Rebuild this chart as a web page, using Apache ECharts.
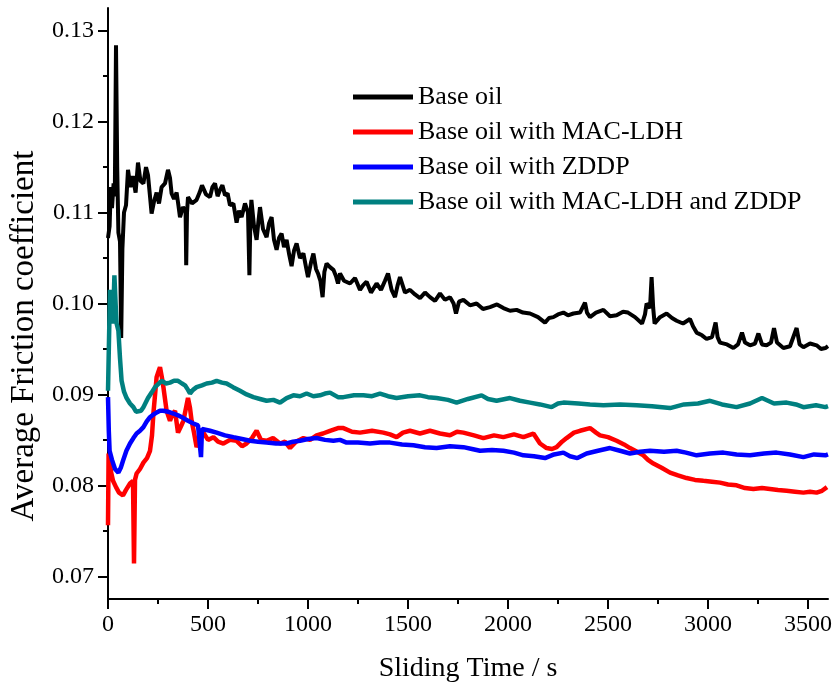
<!DOCTYPE html>
<html>
<head>
<meta charset="utf-8">
<script src="https://cdn.jsdelivr.net/npm/echarts@6/dist/echarts.min.js"></script>
<style>html,body{margin:0;padding:0;background:#fff}#c{width:836px;height:683px}</style>
</head>
<body>
<div id="c"></div>
<script>
const seriesNames = ['Base oil','Base oil with MAC-LDH','Base oil with ZDDP','Base oil with MAC-LDH and ZDDP'];
const seriesColors = ['#000000','#ff0000','#0000ff','#008080'];
const xMajorTicks = [0,500,1000,1500,2000,2500,3000,3500];
const xMinorTicks = [250,750,1250,1750,2250,2750,3250];
const yMajorTicks = [0.07,0.08,0.09,0.10,0.11,0.12,0.13];
const yMinorTicks = [0.075,0.085,0.095,0.105,0.115,0.125];

const baseOil = [[0,0.1072],[8,0.1085],[14,0.1128],[20,0.1105],[28,0.1132],[34,0.1118],[40,0.1284],[46,0.1150],[52,0.1078],[60,0.1068],[66,0.0962],[72,0.1060],[80,0.1100],[90,0.1108],[100,0.1147],[112,0.1128],[124,0.1140],[138,0.1122],[150,0.1155],[162,0.1135],[177,0.1132],[190,0.1150],[200,0.1141],[210,0.1118],[218,0.1099],[230,0.1112],[243,0.1122],[255,0.1110],[268,0.1128],[285,0.1132],[300,0.1147],[310,0.1138],[318,0.1121],[330,0.1115],[343,0.1122],[352,0.1108],[360,0.1095],[375,0.1106],[388,0.1102],[391,0.1042],[395,0.1100],[400,0.1117],[420,0.1110],[443,0.1114],[458,0.1122],[470,0.1130],[490,0.1120],[510,0.1117],[522,0.1128],[535,0.1132],[548,0.1118],[560,0.1125],[572,0.1130],[585,0.1119],[598,0.1121],[610,0.1108],[627,0.1110],[643,0.1089],[655,0.1102],[668,0.1095],[685,0.1110],[700,0.1100],[707,0.1031],[712,0.1095],[717,0.1114],[730,0.1085],[743,0.1070],[752,0.1090],[760,0.1106],[775,0.1082],[793,0.1073],[805,0.1088],[818,0.1095],[830,0.1070],[843,0.1059],[855,0.1072],[868,0.1077],[880,0.1062],[893,0.1070],[905,0.1055],[918,0.1041],[930,0.1058],[943,0.1066],[960,0.1050],[977,0.1055],[990,0.1040],[1000,0.1029],[1015,0.1045],[1027,0.1055],[1040,0.1038],[1050,0.1033],[1062,0.1025],[1073,0.1007],[1082,0.1035],[1093,0.1044],[1110,0.1040],[1127,0.1037],[1140,0.1030],[1150,0.1022],[1160,0.1033],[1180,0.1025],[1210,0.1022],[1235,0.1028],[1260,0.1015],[1275,0.1020],[1293,0.1024],[1315,0.1012],[1343,0.1022],[1365,0.1015],[1385,0.1025],[1400,0.1033],[1418,0.1015],[1435,0.1007],[1448,0.1020],[1460,0.1029],[1485,0.1012],[1510,0.1015],[1535,0.1010],[1560,0.1006],[1585,0.1012],[1610,0.1007],[1635,0.1003],[1660,0.1011],[1685,0.1004],[1710,0.1007],[1728,0.1000],[1740,0.0989],[1755,0.1002],[1777,0.1004],[1810,0.0998],[1843,0.1000],[1875,0.0994],[1910,0.0996],[1945,0.0999],[1977,0.0995],[2010,0.0992],[2043,0.0993],[2075,0.0990],[2110,0.0989],[2150,0.0985],[2185,0.0979],[2205,0.0984],[2227,0.0985],[2250,0.0988],[2277,0.0990],[2300,0.0987],[2327,0.0989],[2360,0.0990],[2385,0.1001],[2395,0.0990],[2410,0.0985],[2440,0.0990],[2477,0.0993],[2510,0.0986],[2543,0.0987],[2575,0.0991],[2600,0.0990],[2635,0.0985],[2670,0.0978],[2685,0.0988],[2693,0.1000],[2710,0.0995],[2718,0.1029],[2726,0.0995],[2733,0.0978],[2760,0.0985],[2793,0.0989],[2820,0.0984],[2843,0.0981],[2875,0.0978],[2910,0.0983],[2925,0.0975],[2943,0.0968],[2970,0.0965],[2993,0.0961],[3020,0.0963],[3038,0.0979],[3048,0.0963],[3060,0.0957],[3095,0.0955],[3127,0.0951],[3150,0.0955],[3170,0.0968],[3185,0.0957],[3210,0.0954],[3235,0.0956],[3252,0.0967],[3270,0.0955],[3293,0.0954],[3315,0.0957],[3330,0.0973],[3345,0.0957],[3377,0.0951],[3410,0.0953],[3443,0.0973],[3458,0.0955],[3477,0.0952],[3510,0.0956],[3543,0.0954],[3565,0.0950],[3587,0.0951],[3600,0.0953]];

const macLdh = [[0,0.0756],[3,0.0835],[8,0.0828],[15,0.0815],[25,0.0805],[40,0.0798],[55,0.0792],[75,0.0789],[90,0.0795],[110,0.0802],[125,0.0805],[130,0.0714],[135,0.0806],[143,0.0813],[160,0.0818],[177,0.0825],[195,0.0830],[210,0.0838],[220,0.0855],[227,0.0879],[243,0.0919],[252,0.0925],[260,0.0930],[270,0.0918],[277,0.0908],[293,0.0882],[310,0.0871],[322,0.0878],[335,0.0882],[350,0.0858],[365,0.0865],[377,0.0871],[390,0.0885],[400,0.0896],[410,0.0885],[418,0.0871],[430,0.0858],[443,0.0842],[460,0.0852],[477,0.0858],[500,0.0850],[527,0.0853],[550,0.0848],[577,0.0846],[610,0.0850],[643,0.0849],[670,0.0843],[693,0.0846],[720,0.0852],[743,0.0860],[765,0.0850],[793,0.0849],[825,0.0852],[860,0.0846],[885,0.0848],[910,0.0841],[940,0.0848],[977,0.0852],[1010,0.0850],[1043,0.0855],[1075,0.0857],[1110,0.0860],[1150,0.0863],[1177,0.0863],[1220,0.0859],[1260,0.0858],[1320,0.0860],[1377,0.0858],[1410,0.0856],[1443,0.0853],[1475,0.0858],[1510,0.0860],[1560,0.0857],[1610,0.0860],[1660,0.0857],[1710,0.0855],[1745,0.0859],[1777,0.0858],[1830,0.0855],[1877,0.0852],[1930,0.0855],[1977,0.0853],[2030,0.0856],[2077,0.0853],[2127,0.0857],[2160,0.0846],[2193,0.0841],[2220,0.0840],[2243,0.0842],[2270,0.0848],[2293,0.0852],[2330,0.0858],[2360,0.0860],[2410,0.0863],[2440,0.0858],[2460,0.0855],[2500,0.0853],[2543,0.0849],[2580,0.0845],[2610,0.0841],[2645,0.0837],[2677,0.0833],[2700,0.0828],[2727,0.0824],[2770,0.0819],[2810,0.0814],[2850,0.0811],[2893,0.0808],[2935,0.0806],[2977,0.0805],[3020,0.0804],[3060,0.0803],[3100,0.0801],[3143,0.0800],[3185,0.0797],[3227,0.0796],[3270,0.0797],[3310,0.0796],[3350,0.0795],[3393,0.0794],[3435,0.0793],[3477,0.0792],[3510,0.0793],[3543,0.0792],[3570,0.0794],[3595,0.0798]];

const zddp = [[0,0.0897],[4,0.0860],[8,0.0838],[20,0.0828],[35,0.0818],[52,0.0814],[65,0.0820],[75,0.0827],[92,0.0838],[110,0.0846],[127,0.0852],[143,0.0857],[160,0.0860],[177,0.0864],[193,0.0870],[210,0.0875],[227,0.0878],[243,0.0880],[260,0.0882],[277,0.0882],[300,0.0881],[327,0.0879],[350,0.0877],[377,0.0874],[400,0.0871],[427,0.0868],[450,0.0866],[460,0.0864],[465,0.0831],[470,0.0862],[477,0.0863],[510,0.0860],[543,0.0858],[585,0.0855],[627,0.0853],[670,0.0851],[710,0.0849],[750,0.0848],[793,0.0847],[840,0.0846],[893,0.0846],[925,0.0848],[960,0.0849],[1000,0.0851],[1043,0.0852],[1085,0.0850],[1127,0.0849],[1160,0.0850],[1193,0.0847],[1250,0.0847],[1310,0.0846],[1360,0.0847],[1410,0.0847],[1470,0.0845],[1527,0.0844],[1585,0.0842],[1643,0.0841],[1710,0.0843],[1777,0.0842],[1820,0.0840],[1860,0.0838],[1920,0.0839],[1977,0.0838],[2030,0.0836],[2077,0.0833],[2130,0.0832],[2185,0.0830],[2230,0.0834],[2277,0.0836],[2310,0.0832],[2347,0.0830],[2393,0.0835],[2450,0.0838],[2510,0.0841],[2560,0.0838],[2610,0.0835],[2660,0.0837],[2710,0.0838],[2780,0.0837],[2843,0.0838],[2890,0.0836],[2943,0.0833],[3010,0.0835],[3077,0.0836],[3143,0.0834],[3210,0.0833],[3280,0.0835],[3343,0.0836],[3410,0.0834],[3477,0.0831],[3530,0.0834],[3587,0.0833],[3600,0.0834]];

const macLdhZddp = [[0,0.0904],[5,0.0960],[10,0.1015],[18,0.0995],[25,0.0978],[32,0.1031],[38,0.1000],[43,0.0978],[52,0.0970],[60,0.0940],[68,0.0915],[80,0.0903],[93,0.0896],[110,0.0890],[127,0.0886],[140,0.0881],[150,0.0879],[165,0.0882],[177,0.0886],[200,0.0896],[218,0.0902],[235,0.0908],[268,0.0915],[290,0.0912],[310,0.0913],[330,0.0915],[350,0.0915],[370,0.0912],[385,0.0910],[400,0.0905],[410,0.0901],[425,0.0905],[443,0.0908],[470,0.0910],[493,0.0912],[520,0.0913],[543,0.0915],[570,0.0913],[593,0.0912],[625,0.0908],[660,0.0904],[693,0.0900],[727,0.0897],[760,0.0895],[793,0.0893],[827,0.0894],[860,0.0891],[893,0.0896],[927,0.0899],[960,0.0898],[993,0.0901],[1027,0.0898],[1060,0.0899],[1085,0.0901],[1110,0.0902],[1150,0.0897],[1177,0.0897],[1230,0.0899],[1277,0.0899],[1320,0.0898],[1360,0.0901],[1400,0.0898],[1443,0.0896],[1500,0.0898],[1560,0.0899],[1600,0.0897],[1643,0.0896],[1700,0.0894],[1743,0.0891],[1800,0.0895],[1868,0.0899],[1900,0.0895],[1943,0.0893],[2010,0.0896],[2060,0.0893],[2110,0.0891],[2160,0.0889],[2218,0.0886],[2250,0.0890],[2277,0.0891],[2352,0.0890],[2410,0.0889],[2477,0.0888],[2560,0.0889],[2643,0.0888],[2720,0.0887],[2810,0.0885],[2880,0.0889],[2950,0.0890],[3010,0.0893],[3070,0.0889],[3143,0.0886],[3210,0.0890],[3270,0.0896],[3330,0.0890],[3393,0.0891],[3440,0.0889],[3477,0.0886],[3540,0.0888],[3587,0.0886],[3600,0.0887]];

const seriesData = [baseOil, macLdh, zddp, macLdhZddp];
const seriesWidths = [4, 4.5, 4.5, 4.5];
const FONT = 'Liberation Serif';

const chart = echarts.init(document.getElementById('c'));
function mainLine(){ return {show:true, onZero:false, lineStyle:{color:'#000', width:2}}; }
chart.setOption({
  animation:false,
  grid:{left:108, right:8, top:8, bottom:84, outerBoundsMode:'none', containLabel:false},
  legend:{
    orient:'vertical', left:353, top:84, padding:0,
    itemWidth:60, itemHeight:5, itemGap:9, icon:'rect',
    textStyle:{fontFamily:FONT, fontSize:26, color:'#000', lineHeight:26},
    data:seriesNames
  },
  xAxis:[{
    type:'value', min:0, max:3600, position:'bottom',
    name:'Sliding Time / s', nameLocation:'middle', nameGap:56,
    nameTextStyle:{fontFamily:FONT, fontSize:28, color:'#000'},
    axisLine:mainLine(),
    axisTick:{show:true, length:10, lineStyle:{color:'#000', width:2}, customValues:xMajorTicks},
    axisLabel:{fontFamily:FONT, fontSize:24, color:'#000', margin:14, customValues:xMajorTicks,
      formatter:function(v){return String(v);}},
    splitLine:{show:false}
  },{
    type:'value', min:0, max:3600, position:'bottom',
    axisLine:{show:false},
    axisTick:{show:true, length:5, lineStyle:{color:'#000', width:2}, customValues:xMinorTicks},
    axisLabel:{show:false},
    splitLine:{show:false}
  }],
  yAxis:[{
    type:'value', min:0.0675, max:0.1325, position:'left',
    name:'Average Friction coefficient', nameLocation:'middle', nameGap:50,
    nameTextStyle:{fontFamily:FONT, fontSize:33, color:'#000', padding:[0,65,0,0]},
    axisLine:mainLine(),
    axisTick:{show:true, length:10, lineStyle:{color:'#000', width:2}, customValues:yMajorTicks},
    axisLabel:{fontFamily:FONT, fontSize:24, color:'#000', margin:14, customValues:yMajorTicks,
      formatter:function(v){return v.toFixed(2);}},
    splitLine:{show:false}
  },{
    type:'value', min:0.0675, max:0.1325, position:'left',
    axisLine:{show:false},
    axisTick:{show:true, length:5, lineStyle:{color:'#000', width:2}, customValues:yMinorTicks},
    axisLabel:{show:false},
    splitLine:{show:false}
  }],
  series: seriesNames.map(function(n,i){
    return {
      name:n, type:'line', xAxisIndex:0, yAxisIndex:0,
      data:seriesData[i], showSymbol:false, symbol:'none',
      lineStyle:{color:seriesColors[i], width:seriesWidths[i]}, itemStyle:{color:seriesColors[i]},
      z: 2+i
    };
  })
});
</script>
</body>
</html>
